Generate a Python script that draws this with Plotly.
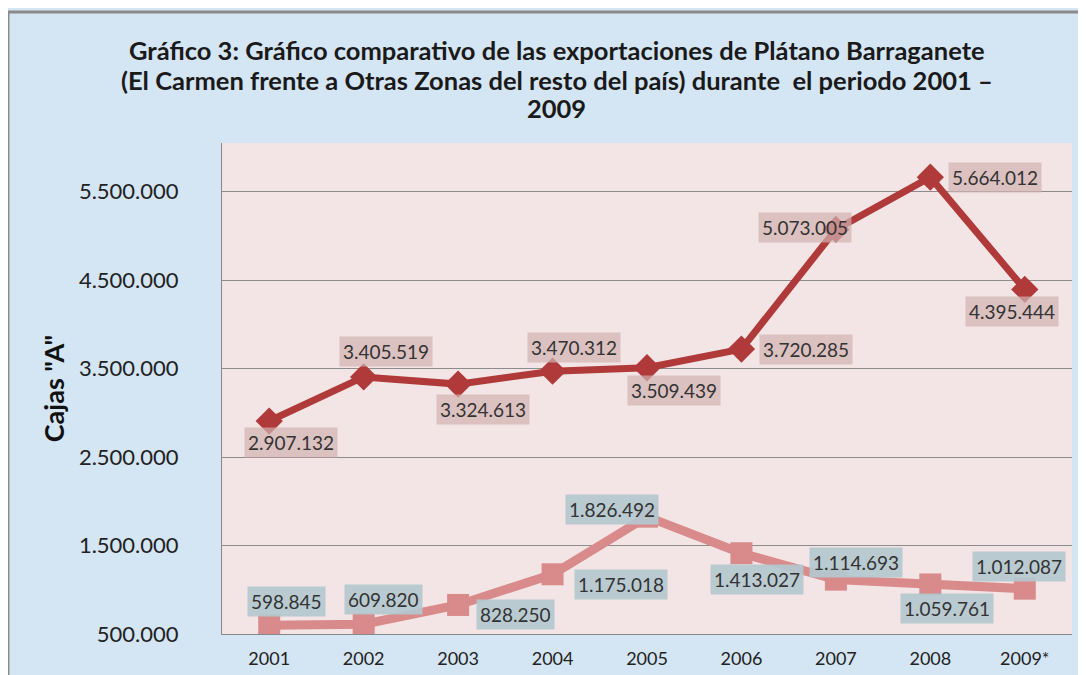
import plotly.graph_objects as go

years = ["2001", "2002", "2003", "2004", "2005", "2006", "2007", "2008", "2009*"]
el_carmen = [2907132, 3405519, 3324613, 3470312, 3509439, 3720285, 5073005, 5664012, 4395444]
otras_zonas = [598845, 609820, 828250, 1175018, 1826492, 1413027, 1114693, 1059761, 1012087]
y_ticks = [500000, 1500000, 2500000, 3500000, 4500000, 5500000]
title_lines = [
    "Gráfico 3: Gráfico comparativo de las exportaciones de Plátano Barraganete",
    "(El Carmen frente a Otras Zonas del resto del país) durante  el periodo 2001 –",
    "2009",
]

def fmt(v):
    return f"{v:,}".replace(",", ".")

# label offsets (pixels) relative to each data point
off1 = [(22, -21), (22, 25), (25, -25), (21, 24), (27, -23), (65, 0), (-31, 2), (65, 0), (-13, -22)]
off2 = [(17, 24), (20, 25), (57, -10), (68, -10), (-35, 7), (16, -26), (20, 17), (17, -24), (-6, 22)]

DARK = "#b03a3a"
PINK = "#d98a8a"
FONT = "Lato, 'Open Sans', sans-serif"

fig = go.Figure()
fig.add_trace(go.Scatter(
    x=years, y=el_carmen, mode="lines+markers", name="El Carmen",
    line=dict(color=DARK, width=7),
    marker=dict(symbol="diamond", size=21, color=DARK),
))
fig.add_trace(go.Scatter(
    x=years, y=otras_zonas, mode="lines+markers", name="Otras Zonas",
    line=dict(color=PINK, width=9),
    marker=dict(symbol="square", size=22, color=PINK),
))

annotations = []
for i, v in enumerate(el_carmen):
    annotations.append(dict(x=i, y=v, xref="x", yref="y", text=fmt(v), showarrow=False,
                            xshift=off1[i][0], yshift=off1[i][1],
                            bgcolor="rgba(210,178,178,0.7)", borderpad=3,
                            font=dict(family=FONT, size=19, color="#333333")))
for i, v in enumerate(otras_zonas):
    annotations.append(dict(x=i, y=v, xref="x", yref="y", text=fmt(v), showarrow=False,
                            xshift=off2[i][0], yshift=off2[i][1],
                            bgcolor="rgba(180,200,207,0.92)", borderpad=3,
                            font=dict(family=FONT, size=19, color="#333333")))

title_y = [1.1900, 1.1290, 1.0720]
for txt, ty in zip(title_lines, title_y):
    annotations.append(dict(x=0.394, y=ty, xref="paper", yref="paper", text=txt, showarrow=False,
                            xanchor="center", yanchor="middle",
                            font=dict(family=FONT, size=25.5, color="#1a1a1a", weight="bold")))

fig.update_layout(
    width=1078, height=667,
    margin=dict(l=214, r=14, t=135, b=41),
    paper_bgcolor="#d4e5f3",
    plot_bgcolor="#f3e5e5",
    showlegend=False,
    xaxis=dict(
        type="category", range=[-0.5, 8.5], showgrid=False,
        showline=True, linecolor="#888888", linewidth=1,
        tickfont=dict(family=FONT, size=18, color="#222222"),
        ticks="", ticklabelstandoff=8, fixedrange=True, automargin=False,
    ),
    yaxis=dict(
        range=[500000, 6050000], tickvals=y_ticks, ticktext=[fmt(t) for t in y_ticks],
        showgrid=True, gridcolor="#8c8c8c", gridwidth=1, zeroline=False,
        showline=True, linecolor="#888888", linewidth=1,
        tickfont=dict(family=FONT, size=22, color="#222222"), ticks="",
        ticklabelstandoff=38, automargin=False,
        title=dict(text='Cajas "A"', font=dict(family=FONT, size=27, color="#111111", weight="bold"), standoff=6),
    ),
    annotations=annotations,
    shapes=[
        dict(type="line", xref="paper", yref="paper", x0=-0.2518, x1=1.02, y0=1.2668, y1=1.2668,
             line=dict(color="#8a8a8a", width=3), layer="above"),
        dict(type="line", xref="paper", yref="paper", x0=-0.2518, x1=-0.2518, y0=-0.1, y1=1.2668,
             line=dict(color="#8a8a8a", width=3), layer="above"),
    ],
)

fig.write_html("out.html")
